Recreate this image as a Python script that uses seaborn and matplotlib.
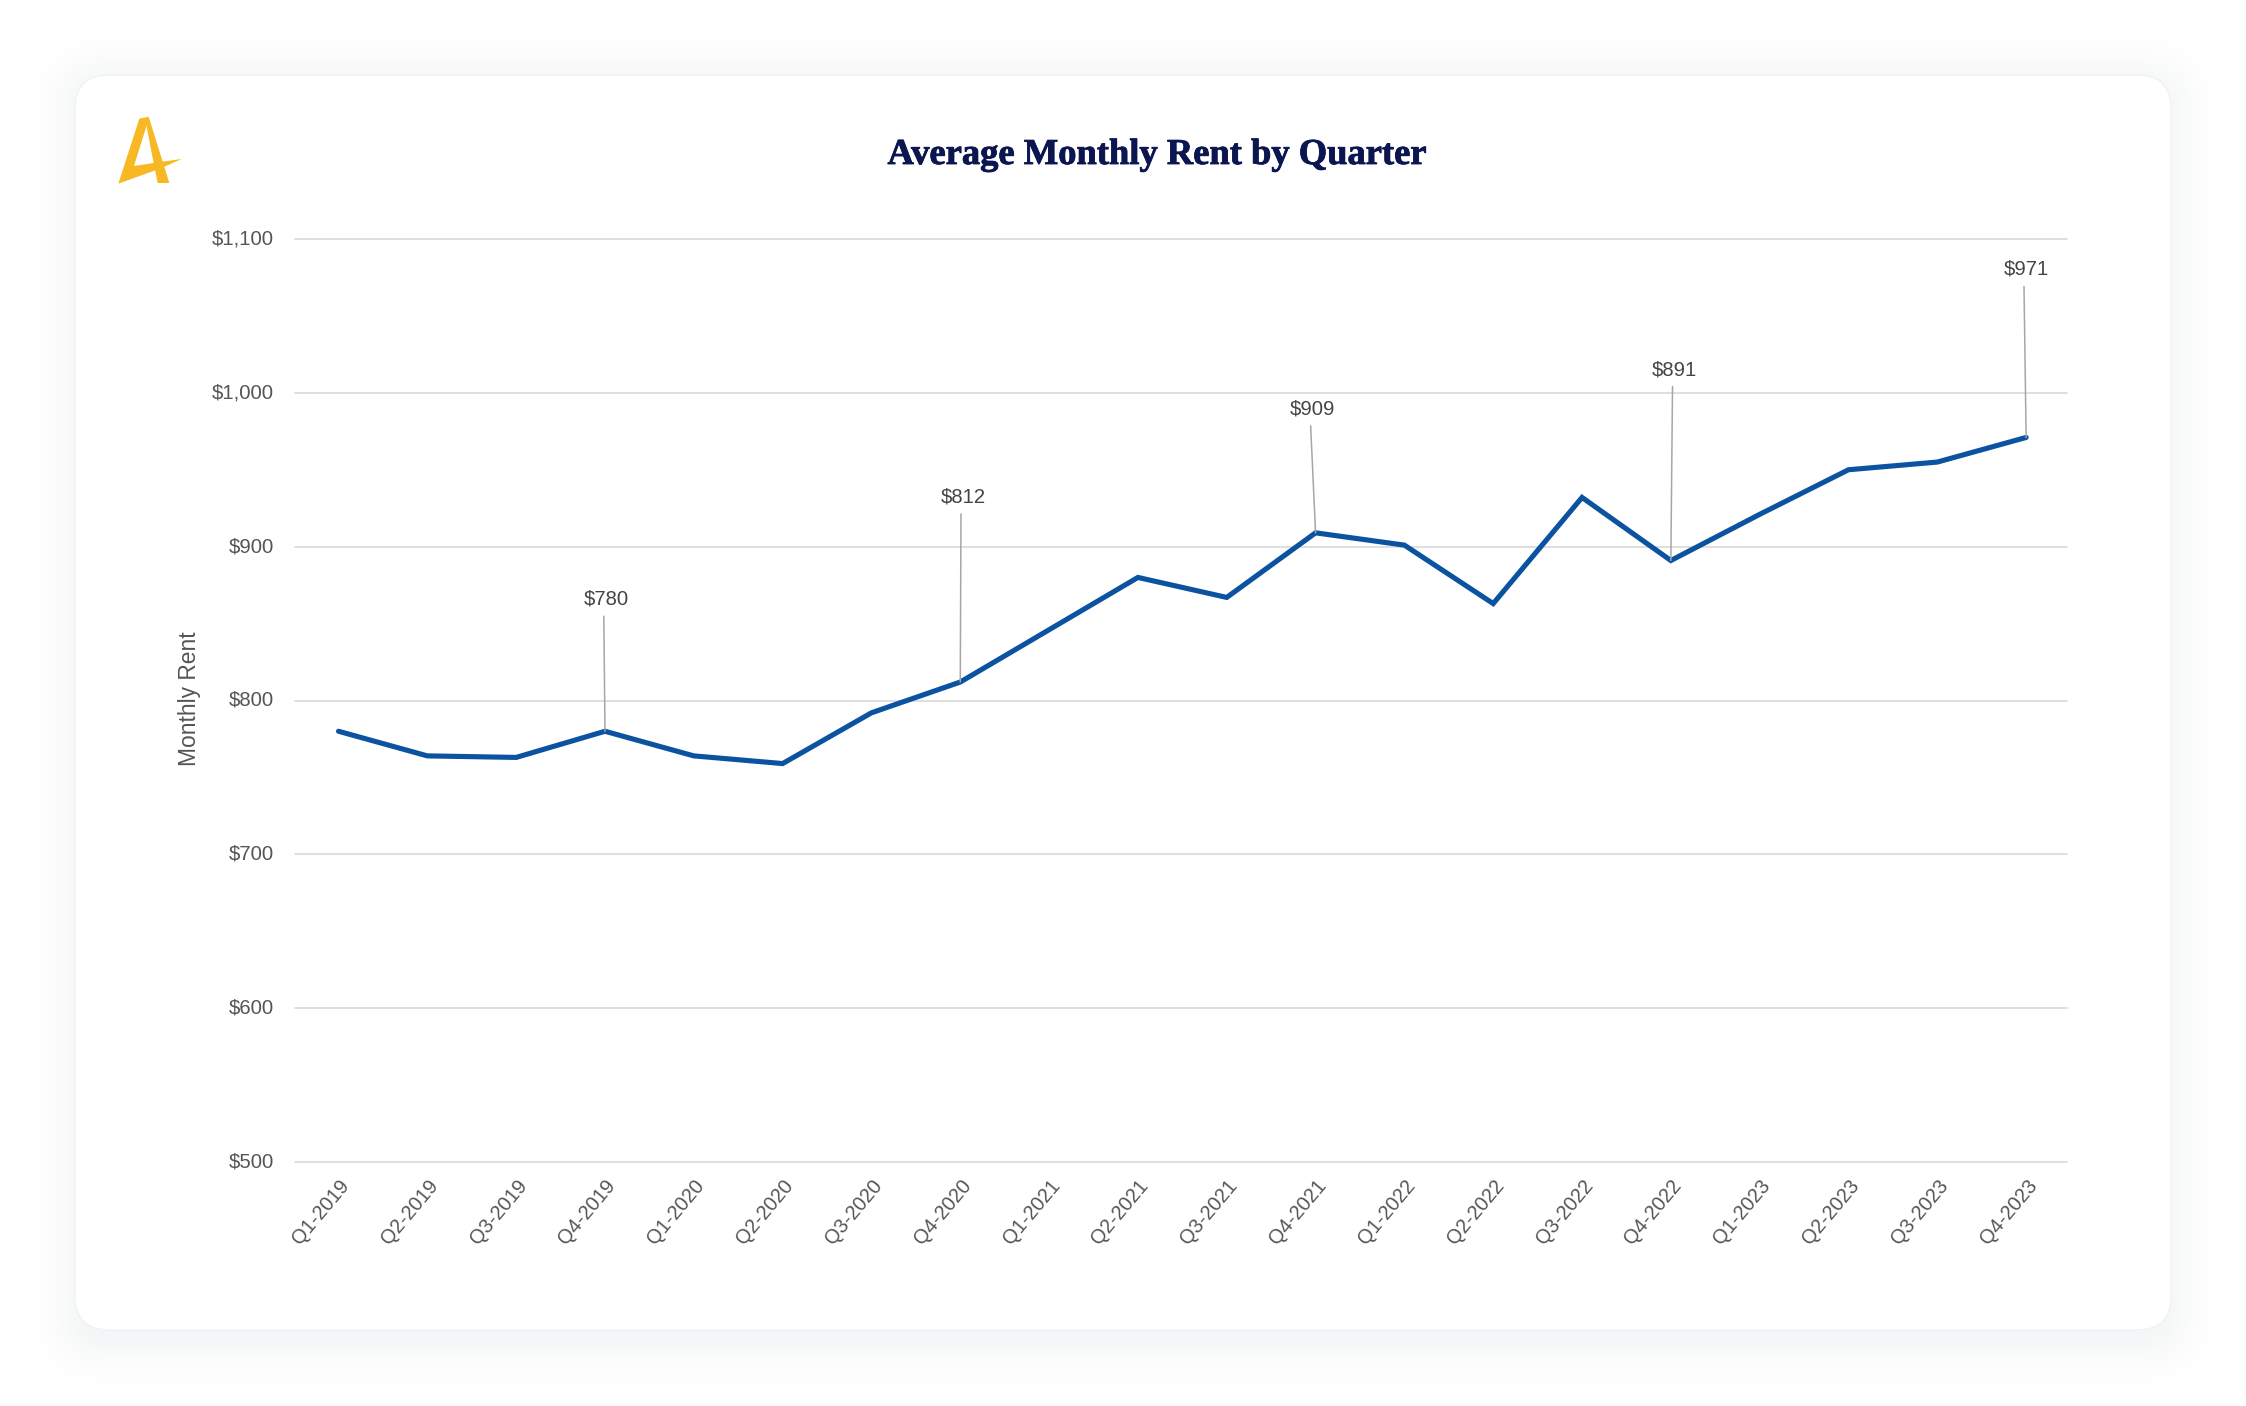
import matplotlib
matplotlib.use("Agg")
import matplotlib.pyplot as plt
import matplotlib.patheffects as pe
from matplotlib.patches import FancyBboxPatch, Polygon
from matplotlib.ticker import StrMethodFormatter
from matplotlib.transforms import ScaledTranslation
import pandas as pd
import seaborn as sns

# Datos
quarters = [
    "Q1-2019", "Q2-2019", "Q3-2019", "Q4-2019",
    "Q1-2020", "Q2-2020", "Q3-2020", "Q4-2020",
    "Q1-2021", "Q2-2021", "Q3-2021", "Q4-2021",
    "Q1-2022", "Q2-2022", "Q3-2022", "Q4-2022",
    "Q1-2023", "Q2-2023", "Q3-2023", "Q4-2023",
]
rent = [780, 764, 763, 780, 764, 759, 792, 812, 846, 880,
        867, 909, 901, 863, 932, 891, 921, 950, 955, 971]
y_ticks = [500, 600, 700, 800, 900, 1000, 1100]
labeled_quarters = ["Q4-2019", "Q4-2020", "Q4-2021", "Q4-2022", "Q4-2023"]

# desplazamiento de cada etiqueta respecto al punto, en pixeles
label_offsets = [(1, 132), (3, 185), (-3, 124), (4, 191), (0, 168)]

W, H = 2246, 1406
DPI = 100

sns.set_theme(style="white")
plt.rcParams["font.family"] = ["Liberation Sans", "DejaVu Sans"]

df = pd.DataFrame({"quarter": quarters, "rent": rent})

fig = plt.figure(figsize=(W / DPI, H / DPI), dpi=DPI, facecolor="white")

# Fondo: tarjeta con sombra y logo, en coordenadas de pixel
bg = fig.add_axes([0, 0, 1, 1], zorder=0)
bg.set_xlim(0, W)
bg.set_ylim(H, 0)
bg.axis("off")

# sombra con capas opacas, mas oscura hacia abajo
SHADOW_REACH = 66
for grow in range(SHADOW_REACH, 0, -1):
    t = (1 - grow / SHADOW_REACH) ** 1.6
    shade = (1 - 13 * t / 255, 1 - 11 * t / 255, 1 - 10 * t / 255)
    x0 = 75 - (grow - 12)
    y0 = 75 - (grow - 16)
    bg.add_patch(FancyBboxPatch(
        (x0, y0), 2096 + 2 * (grow - 12), 1330 + grow - y0,
        boxstyle=f"round,pad=0,rounding_size={max(34, 22 + grow)}",
        fc=shade, ec="none",
    ))
bg.add_patch(FancyBboxPatch(
    (75, 75), 2096, 1255, boxstyle="round,pad=0,rounding_size=34",
    fc="white", ec="#f1f2f4", lw=1,
))


def logo_xy(points):
    # puntos medidos en el recorte ampliado 3x
    return [(60 + x / 3, 60 + y / 3) for x, y in points]


logo_color = "#f8b823"
bg.add_patch(Polygon(logo_xy([
    (238, 176), (266, 170), (262, 190), (222, 318), (300, 306), (365, 297),
    (300, 326), (175, 371),
]), fc=logo_color, ec="none"))
bg.add_patch(Polygon(logo_xy([
    (266, 170), (328, 369), (293, 369), (283, 320), (258, 190),
]), fc=logo_color, ec="none"))

# Grafico principal
left, right, top, bottom = 295, 2067, 239, 1162
ax = fig.add_axes(
    [left / W, 1 - bottom / H, (right - left) / W, (bottom - top) / H], zorder=1
)
ax.patch.set_alpha(0)

sns.lineplot(
    data=df, x="quarter", y="rent", ax=ax, color="#0b53a1",
    linewidth=3.7, estimator=None, sort=False, zorder=3,
    solid_joinstyle="miter",
)

ax.set_xlim(-0.49, len(quarters) - 0.54)
ax.set_ylim(500, 1100)
ax.set_yticks(y_ticks)
ax.yaxis.set_major_formatter(StrMethodFormatter("${x:,.0f}"))
ax.set_xticks(range(len(quarters)))
ax.set_xticklabels(
    quarters, rotation=50, ha="right", rotation_mode="anchor",
    fontsize=14.4, color="#555555",
)
ax.tick_params(axis="x", length=0, pad=10)
ax.tick_params(axis="y", length=0, pad=15, labelsize=14.6, labelcolor="#555555")

# las etiquetas del eje y van un poco mas arriba que la linea
nudge = ScaledTranslation(0, 1.5 / 72, fig.dpi_scale_trans)
for label in ax.get_yticklabels():
    label.set_transform(label.get_transform() + nudge)

ax.grid(axis="y", color="#d9d9d9", linewidth=1.2)
ax.grid(axis="x", visible=False)
sns.despine(ax=ax, left=True, bottom=True, top=True, right=True)
for line in ax.get_ygridlines():
    line.set_clip_on(False)

ax.set_xlabel("")
ax.set_ylabel("")
fig.text(189.5 / W, 1 - 699 / H, "Monthly Rent", rotation=90, ha="center",
         va="center", fontsize=16.4, color="#555555", zorder=2)

# Etiquetas con linea guia
for quarter, (dx, dy) in zip(labeled_quarters, label_offsets):
    idx = quarters.index(quarter)
    value = rent[idx]
    ax.annotate(
        f"${value}",
        xy=(idx, value),
        xytext=(dx * 72 / DPI, dy * 72 / DPI),
        textcoords="offset points",
        ha="center", va="center", fontsize=14.6, color="#444444",
        annotation_clip=False, zorder=4,
        arrowprops=dict(arrowstyle="-", color="#a6a6a6", lw=1.1,
                        shrinkA=3, shrinkB=0, relpos=(0.45, 0)),
    )

title = fig.text(1157 / W, 1 - 154.5 / H, "Average Monthly Rent by Quarter",
                 ha="center", va="center", fontsize=26.3, fontweight="bold",
                 family=["Liberation Serif", "DejaVu Serif"], color="#0b1650",
                 zorder=2)
title.set_path_effects([pe.withStroke(linewidth=0.6, foreground="#0b1650")])

fig.savefig("out.png", dpi=DPI)
